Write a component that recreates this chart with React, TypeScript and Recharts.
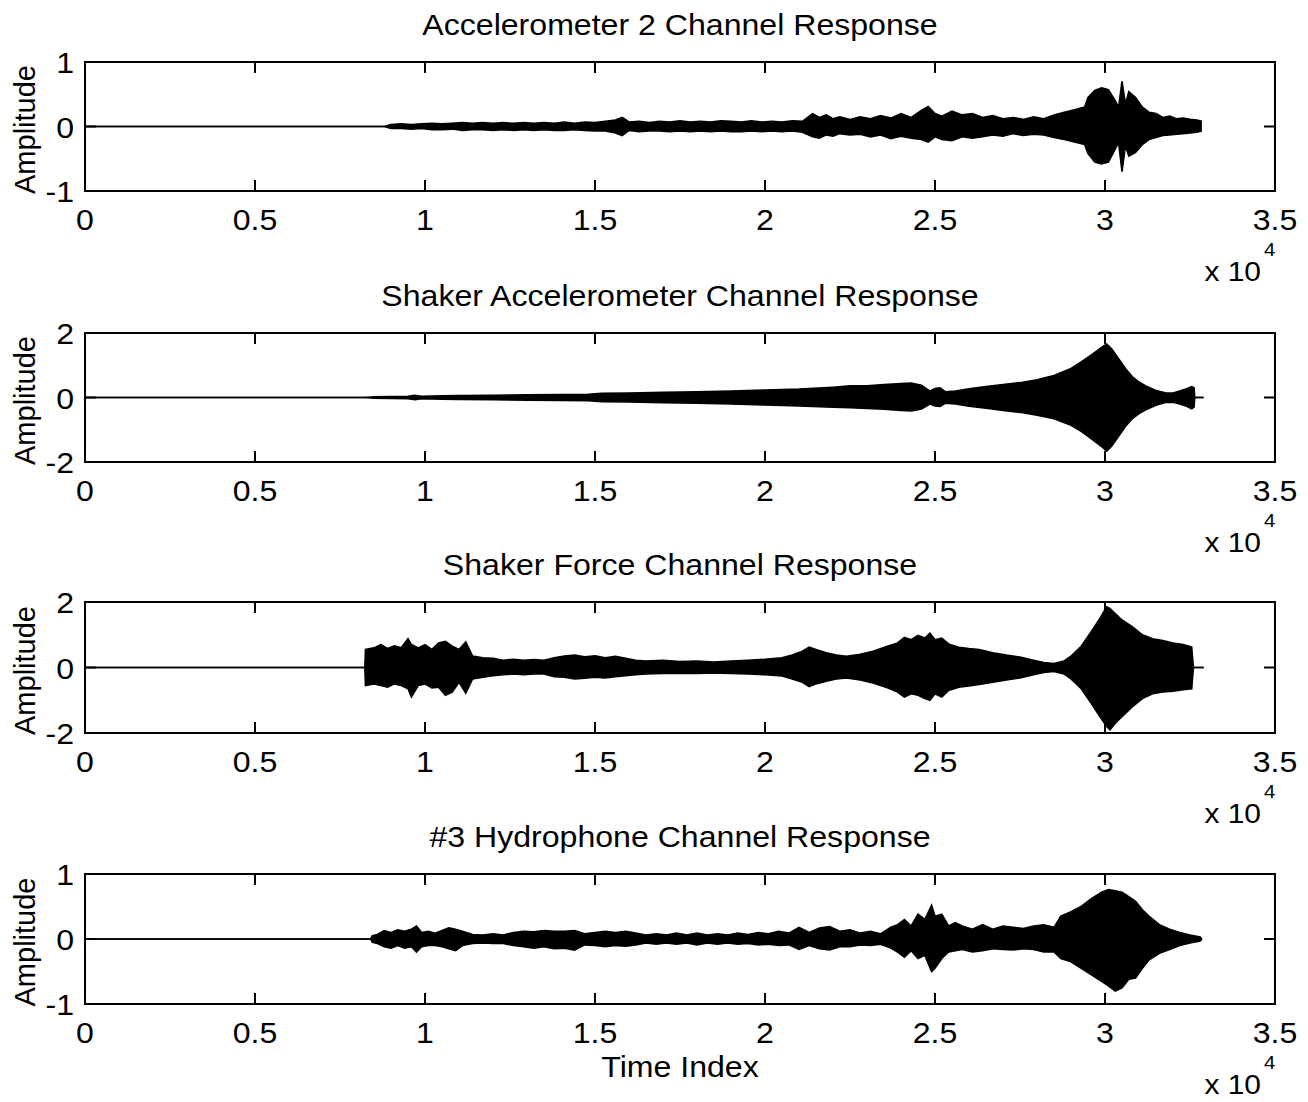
import React from 'react';
import { ComposedChart, Area, XAxis, YAxis, ReferenceArea } from 'recharts';

const FONT = '"Liberation Sans", Arial, Helvetica, sans-serif';
const STRETCH = 1.07;

// ---------- data ----------
const xTicks = [0, 5000, 10000, 15000, 20000, 25000, 30000, 35000];
const xTickLabels = ['0', '0.5', '1', '1.5', '2', '2.5', '3', '3.5'];

const titles = [
  'Accelerometer 2 Channel Response',
  'Shaker Accelerometer Channel Response',
  'Shaker Force Channel Response',
  '#3 Hydrophone Channel Response',
];

const yTicksSmall = [-1, 0, 1];
const yTickLabelsSmall = ['-1', '0', '1'];
const yTicksLarge = [-2, 0, 2];
const yTickLabelsLarge = ['-2', '0', '2'];

// Accelerometer 2 (envelope of the signal)
const acc2Time = [
  0, 8800, 9000, 9300, 9600, 9900, 10200, 10500, 10800, 11100,
  11400, 11700, 12000, 12300, 12600, 12900, 13200, 13500, 13800, 14100,
  14400, 14700, 15000, 15300, 15600, 15800, 16000, 16300, 16600, 16900,
  17200, 17500, 17800, 18100, 18400, 18700, 19000, 19300, 19600, 19900,
  20200, 20500, 20800, 21100, 21400, 21600, 21800, 22000, 22200, 22500,
  22800, 23100, 23400, 23700, 24000, 24300, 24600, 24800, 25000, 25200,
  25500, 25800, 26100, 26400, 26700, 27000, 27300, 27600, 27900, 28200,
  28500, 28800, 29100, 29400, 29500, 29700, 29900, 30100, 30300, 30400,
  30500, 30600, 30700, 30900, 31100, 31300, 31500, 31700, 31900, 32100,
  32300, 32500, 32700, 32850,
];
const acc2Upper = [
  0, 0, 0.03, 0.04, 0.03, 0.04, 0.05, 0.04, 0.05, 0.06,
  0.05, 0.06, 0.05, 0.06, 0.05, 0.06, 0.05, 0.06, 0.05, 0.07,
  0.05, 0.07, 0.06, 0.08, 0.1, 0.14, 0.07, 0.08, 0.06, 0.08,
  0.07, 0.09, 0.07, 0.08, 0.07, 0.09, 0.08, 0.07, 0.09, 0.07,
  0.08, 0.07, 0.09, 0.08, 0.2, 0.14, 0.18, 0.12, 0.15, 0.11,
  0.15, 0.12, 0.17, 0.13, 0.2, 0.14, 0.25, 0.31, 0.2, 0.16,
  0.24, 0.18, 0.2, 0.14, 0.17, 0.12, 0.14, 0.11, 0.15, 0.12,
  0.18, 0.22, 0.26, 0.3, 0.45, 0.56, 0.6, 0.57, 0.4, 0.3,
  0.7, 0.35, 0.54, 0.45, 0.3, 0.22, 0.2, 0.14, 0.16, 0.12,
  0.13, 0.11, 0.1, 0.08,
];
const acc2Lower = [
  0, 0, -0.03, -0.03, -0.04, -0.03, -0.05, -0.05, -0.04, -0.06,
  -0.05, -0.05, -0.06, -0.05, -0.06, -0.05, -0.06, -0.05, -0.06, -0.06,
  -0.05, -0.06, -0.07, -0.07, -0.1, -0.14, -0.06, -0.08, -0.07, -0.07,
  -0.08, -0.07, -0.08, -0.07, -0.08, -0.07, -0.08, -0.08, -0.07, -0.08,
  -0.07, -0.08, -0.07, -0.09, -0.16, -0.18, -0.13, -0.15, -0.11, -0.13,
  -0.12, -0.16, -0.13, -0.19, -0.15, -0.18, -0.2, -0.24, -0.16, -0.2,
  -0.22, -0.16, -0.18, -0.16, -0.13, -0.15, -0.11, -0.14, -0.12, -0.13,
  -0.17, -0.2, -0.24, -0.28, -0.42, -0.55, -0.58, -0.55, -0.35, -0.25,
  -0.7, -0.3, -0.46, -0.4, -0.28, -0.2, -0.17, -0.14, -0.13, -0.12,
  -0.11, -0.1, -0.09, -0.07,
];

// Shaker Accelerometer
const saTime = [
  0, 8200, 8500, 9000, 9500, 9700, 9900, 10500, 11000, 12000,
  13000, 14000, 14800, 15200, 16000, 17000, 18000, 19000, 20000, 21000,
  22000, 22500, 23000, 23500, 24000, 24300, 24600, 24850, 25000, 25150,
  25300, 25600, 26000, 26500, 27000, 27500, 28000, 28500, 29000, 29300,
  29600, 29900, 30050, 30200, 30400, 30600, 30800, 31000, 31200, 31500,
  31800, 32000, 32200, 32400, 32550, 32620, 32640, 32900,
];
const saUpper = [
  0, 0, 0.02, 0.03, 0.04, 0.07, 0.04, 0.05, 0.06, 0.07,
  0.08, 0.09, 0.1, 0.13, 0.14, 0.16, 0.18, 0.2, 0.23, 0.26,
  0.32, 0.36, 0.36, 0.4, 0.43, 0.45, 0.38, 0.2, 0.28, 0.3,
  0.18, 0.2, 0.27, 0.34, 0.4, 0.46, 0.55, 0.68, 0.9, 1.1,
  1.32, 1.55, 1.66, 1.5, 1.2, 0.9, 0.65, 0.48, 0.36, 0.22,
  0.14, 0.14, 0.2, 0.27, 0.34, 0.3, 0, 0,
];
const saLower = [
  0, 0, -0.02, -0.03, -0.04, -0.07, -0.04, -0.05, -0.06, -0.07,
  -0.08, -0.09, -0.1, -0.13, -0.14, -0.16, -0.18, -0.2, -0.23, -0.26,
  -0.3, -0.32, -0.34, -0.36, -0.4, -0.42, -0.36, -0.2, -0.26, -0.28,
  -0.18, -0.2, -0.27, -0.33, -0.4, -0.46, -0.55, -0.66, -0.86, -1.05,
  -1.28, -1.52, -1.66, -1.5, -1.2, -0.9, -0.66, -0.5, -0.38, -0.24,
  -0.15, -0.15, -0.2, -0.27, -0.35, -0.3, 0, 0,
];

// Shaker Force
const sfTime = [
  0, 8230, 8250, 8500, 8700, 8900, 9100, 9300, 9500, 9600,
  9800, 10000, 10200, 10400, 10600, 10800, 11000, 11200, 11400, 11700,
  12000, 12300, 12600, 12900, 13200, 13500, 13800, 14100, 14400, 14700,
  15000, 15300, 15600, 15900, 16200, 16500, 17000, 17500, 18000, 18500,
  19000, 19500, 20000, 20500, 20800, 21100, 21300, 21500, 21800, 22100,
  22400, 22800, 23200, 23600, 23900, 24100, 24300, 24500, 24700, 24850,
  25000, 25200, 25400, 25700, 26000, 26300, 26700, 27100, 27500, 27900,
  28200, 28500, 28800, 29000, 29300, 29600, 29850, 30050, 30150, 30300,
  30500, 30800, 31100, 31400, 31700, 32000, 32300, 32550, 32600, 32900,
];
const sfUpper = [
  0, 0, 0.55, 0.6, 0.7, 0.58, 0.66, 0.6, 0.88, 0.7,
  0.6, 0.7, 0.55, 0.75, 0.8, 0.65, 0.55, 0.78, 0.35, 0.3,
  0.28, 0.22, 0.25, 0.22, 0.24, 0.22, 0.3, 0.35, 0.38, 0.33,
  0.36, 0.3, 0.34, 0.28, 0.22, 0.2, 0.22, 0.18, 0.2, 0.17,
  0.2, 0.22, 0.25, 0.3, 0.38, 0.5, 0.62, 0.55, 0.45, 0.38,
  0.34, 0.4, 0.5, 0.65, 0.75, 0.92, 0.85, 0.98, 0.9, 1.05,
  0.85, 0.9, 0.72, 0.62, 0.58, 0.55, 0.45, 0.38, 0.32, 0.22,
  0.15, 0.12, 0.2, 0.35, 0.65, 1.1, 1.5, 1.85, 1.8, 1.65,
  1.45, 1.25, 1.0, 0.88, 0.82, 0.75, 0.7, 0.62, 0, 0,
];
const sfLower = [
  0, 0, -0.55, -0.5, -0.55, -0.6, -0.5, -0.55, -0.65, -0.9,
  -0.55, -0.5, -0.62, -0.6, -0.85, -0.75, -0.45, -0.78, -0.35, -0.3,
  -0.25, -0.22, -0.2, -0.22, -0.2, -0.2, -0.28, -0.3, -0.35, -0.33,
  -0.3, -0.32, -0.28, -0.25, -0.22, -0.2, -0.18, -0.18, -0.18, -0.17,
  -0.18, -0.2, -0.22, -0.26, -0.35, -0.45, -0.58, -0.5, -0.42, -0.35,
  -0.32, -0.38, -0.48, -0.62, -0.75, -0.9, -0.8, -0.85, -0.95, -1.0,
  -0.8, -0.9, -0.7, -0.6, -0.56, -0.52, -0.45, -0.38, -0.32, -0.22,
  -0.15, -0.12, -0.2, -0.35, -0.65, -1.1, -1.5, -1.8, -1.9, -1.7,
  -1.5, -1.2, -0.95, -0.8, -0.75, -0.72, -0.68, -0.65, 0, 0,
];

// #3 Hydrophone
const hyTime = [
  0, 8400, 8450, 8600, 8800, 9000, 9200, 9400, 9600, 9750,
  9900, 10100, 10300, 10500, 10700, 10900, 11100, 11400, 11700, 12000,
  12300, 12600, 12900, 13200, 13500, 13800, 14100, 14400, 14700, 15000,
  15300, 15600, 15900, 16200, 16500, 16800, 17100, 17400, 17700, 18000,
  18300, 18600, 18900, 19200, 19500, 19800, 20100, 20400, 20700, 21000,
  21300, 21600, 21900, 22200, 22500, 22800, 23100, 23400, 23700, 23900,
  24100, 24300, 24500, 24700, 24900, 25000, 25200, 25400, 25600, 25800,
  26100, 26400, 26700, 27000, 27300, 27600, 27900, 28200, 28500, 28700,
  29000, 29300, 29600, 29900, 30100, 30300, 30500, 30700, 30900, 31100,
  31300, 31600, 31900, 32200, 32500, 32800, 32850,
];
const hyUpper = [
  0, 0, 0.05, 0.07, 0.13, 0.1, 0.14, 0.12, 0.15, 0.2,
  0.1, 0.12, 0.09, 0.13, 0.17, 0.15, 0.12, 0.07, 0.06, 0.08,
  0.06, 0.1, 0.12, 0.11, 0.13, 0.12, 0.12, 0.13, 0.08, 0.1,
  0.12, 0.1, 0.12, 0.09, 0.06, 0.08, 0.06, 0.09, 0.06, 0.09,
  0.06, 0.08, 0.06, 0.09, 0.07, 0.1, 0.08, 0.12, 0.09, 0.18,
  0.1, 0.17, 0.19, 0.12, 0.14, 0.09, 0.12, 0.08, 0.18, 0.22,
  0.3, 0.2, 0.38, 0.3, 0.52, 0.35, 0.38, 0.2, 0.25, 0.2,
  0.15, 0.22, 0.15, 0.2, 0.18, 0.16, 0.2, 0.22, 0.18, 0.35,
  0.42, 0.5, 0.62, 0.72, 0.76, 0.74, 0.72, 0.65, 0.58, 0.45,
  0.35, 0.22, 0.15, 0.1, 0.06, 0.03, 0,
];
const hyLower = [
  0, 0, -0.05, -0.07, -0.12, -0.14, -0.1, -0.14, -0.12, -0.2,
  -0.12, -0.1, -0.1, -0.12, -0.15, -0.18, -0.1, -0.07, -0.06, -0.07,
  -0.07, -0.1, -0.12, -0.14, -0.12, -0.15, -0.14, -0.17, -0.09, -0.1,
  -0.12, -0.1, -0.11, -0.09, -0.06, -0.08, -0.06, -0.08, -0.06, -0.09,
  -0.06, -0.08, -0.06, -0.08, -0.07, -0.09, -0.08, -0.1, -0.09, -0.16,
  -0.1, -0.15, -0.17, -0.12, -0.12, -0.09, -0.1, -0.08, -0.14, -0.2,
  -0.28, -0.18, -0.3, -0.25, -0.5, -0.45, -0.3, -0.2, -0.18, -0.16,
  -0.2, -0.18, -0.15, -0.16, -0.17, -0.15, -0.16, -0.2, -0.2, -0.3,
  -0.35, -0.45, -0.55, -0.65, -0.72, -0.8, -0.75, -0.62, -0.6, -0.45,
  -0.32, -0.22, -0.16, -0.1, -0.06, -0.03, 0,
];

// ---------- layout ----------
const PAGE_W = 1308;
const PAGE_H = 1102;
const PLOT_LEFT = 85;
const PLOT_RIGHT = 1275;
const PLOT_W = PLOT_RIGHT - PLOT_LEFT;
const MARGIN_TOP = 25;
const XAXIS_H = 50;

const layout = [
  { top: 62, h: 129 },
  { top: 333, h: 129 },
  { top: 602, h: 131 },
  { top: 874, h: 130 },
];

function build(time: number[], upper: number[], lower: number[]) {
  return time.map((t, i) => ({ t, range: [lower[i] ?? 0, upper[i] ?? 0] }));
}

const panels = [
  { title: titles[0], data: build(acc2Time, acc2Upper, acc2Lower), yMax: 1, yTicks: yTicksSmall, yLabels: yTickLabelsSmall },
  { title: titles[1], data: build(saTime, saUpper, saLower), yMax: 2, yTicks: yTicksLarge, yLabels: yTickLabelsLarge },
  { title: titles[2], data: build(sfTime, sfUpper, sfLower), yMax: 2, yTicks: yTicksLarge, yLabels: yTickLabelsLarge },
  { title: titles[3], data: build(hyTime, hyUpper, hyLower), yMax: 1, yTicks: yTicksSmall, yLabels: yTickLabelsSmall },
];

function StretchText({ x, y, anchor = 'middle', size = 30, children }: any) {
  return (
    <text
      x={0}
      y={0}
      transform={`translate(${x}, ${y}) scale(${STRETCH}, 1)`}
      textAnchor={anchor}
      fontSize={size}
      fontFamily={FONT}
      fill="#000"
    >
      {children}
    </text>
  );
}

function XTick(props: any) {
  const { x, y, payload, plotH } = props;
  const idx = xTicks.indexOf(payload.value);
  const label = idx >= 0 ? xTickLabels[idx] : '';
  return (
    <g>
      <line x1={x} y1={y} x2={x} y2={y - 11} stroke="#000" strokeWidth={2} />
      <line x1={x} y1={y - plotH} x2={x} y2={y - plotH + 11} stroke="#000" strokeWidth={2} />
      <StretchText x={x} y={y + 39}>{label}</StretchText>
    </g>
  );
}

function YTick(props: any) {
  const { x, y, payload, ticks, labels } = props;
  const idx = ticks.indexOf(payload.value);
  const label = idx >= 0 ? labels[idx] : '';
  return (
    <g>
      {payload.value === 0 && (
        <>
          <line x1={x} y1={y} x2={x + 11} y2={y} stroke="#000" strokeWidth={2} />
          <line x1={x + PLOT_W - 11} y1={y} x2={x + PLOT_W} y2={y} stroke="#000" strokeWidth={2} />
        </>
      )}
      <StretchText x={x - 11} y={y + 11} anchor="end">{label}</StretchText>
    </g>
  );
}

function Panel({ idx }: { idx: number }) {
  const p = panels[idx];
  const L = layout[idx];
  const chartH = MARGIN_TOP + L.h + XAXIS_H;
  return (
    <div style={{ position: 'absolute', left: 0, top: L.top - MARGIN_TOP, width: PAGE_W, height: chartH }}>
      <ComposedChart
        width={PAGE_W}
        height={chartH}
        data={p.data}
        margin={{ top: MARGIN_TOP, right: PAGE_W - PLOT_RIGHT, bottom: 0, left: 0 }}
      >
        <XAxis
          dataKey="t"
          type="number"
          domain={[0, 35000]}
          ticks={xTicks}
          interval={0}
          allowDataOverflow
          axisLine={false}
          tickLine={false}
          tickSize={0}
          tickMargin={0}
          height={XAXIS_H}
          tick={(tp: any) => <XTick {...tp} plotH={L.h} />}
        />
        <YAxis
          type="number"
          domain={[-p.yMax, p.yMax]}
          ticks={p.yTicks}
          interval={0}
          allowDataOverflow
          axisLine={false}
          tickLine={false}
          tickSize={0}
          tickMargin={0}
          width={PLOT_LEFT}
          tick={(tp: any) => <YTick {...tp} ticks={p.yTicks} labels={p.yLabels} />}
        />
        <Area
          type="linear"
          dataKey="range"
          stroke="#000"
          strokeWidth={1.6}
          fill="#000"
          fillOpacity={1}
          isAnimationActive={false}
          dot={false}
          activeDot={false}
        />
        <ReferenceArea
          x1={0}
          x2={35000}
          y1={-p.yMax}
          y2={p.yMax}
          fill="none"
          fillOpacity={0}
          stroke="#000"
          strokeWidth={2}
          ifOverflow="visible"
        />
      </ComposedChart>
    </div>
  );
}

export default function App() {
  const cx = (PLOT_LEFT + PLOT_RIGHT) / 2;
  return (
    <div style={{ position: 'absolute', left: 0, top: 0, width: PAGE_W, height: PAGE_H, background: '#fff' }}>
      {panels.map((_, i) => (
        <Panel key={i} idx={i} />
      ))}
      <svg
        width={PAGE_W}
        height={PAGE_H}
        style={{ position: 'absolute', left: 0, top: 0, pointerEvents: 'none' }}
      >
        {panels.map((p, i) => {
          const L = layout[i];
          const bottom = L.top + L.h;
          const midY = L.top + L.h / 2 + 3;
          return (
            <g key={i}>
              <StretchText x={cx} y={L.top - 27}>{p.title}</StretchText>
              <text
                x={0}
                y={0}
                textAnchor="middle"
                fontSize={29}
                fontFamily={FONT}
                fill="#000"
                transform={`translate(35, ${midY}) rotate(-90)`}
              >
                Amplitude
              </text>
              <StretchText x={1261} y={bottom + 90} anchor="end" size={28}>x 10</StretchText>
              <StretchText x={1264} y={bottom + 65} anchor="start" size={19}>4</StretchText>
            </g>
          );
        })}
        <StretchText x={cx} y={1077}>Time Index</StretchText>
      </svg>
    </div>
  );
}
